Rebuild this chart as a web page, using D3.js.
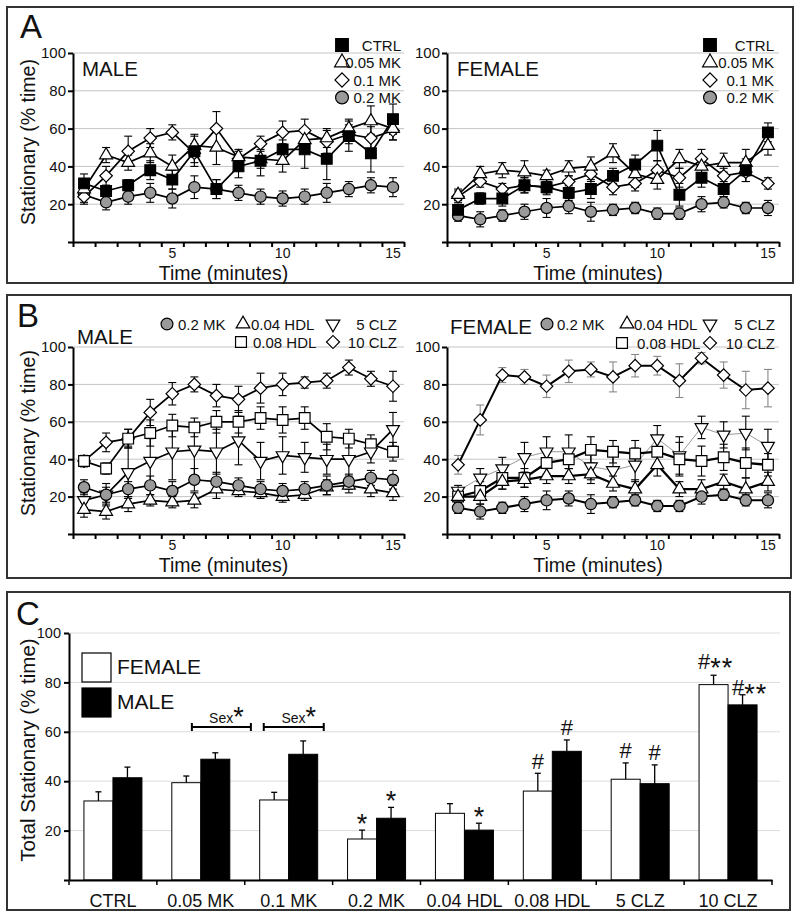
<!DOCTYPE html>
<html><head><meta charset="utf-8">
<script src="https://cdn.jsdelivr.net/npm/d3@7"></script>
<style>body{margin:0;background:#fff}svg{display:block}text{font-family:Arial,"Liberation Sans",sans-serif;fill:#111}</style>
</head><body><svg id="c" width="800" height="917"></svg>
<script>
// ---------------- DATA ----------------
const minutes = [1,2,3,4,5,6,7,8,9,10,11,12,13,14,15];
const xTickLabels = [5,10,15];
const yTicks = [20,40,60,80,100];

const seriesA = ["CTRL","0.05 MK","0.1 MK","0.2 MK"];
const seriesB = ["0.2 MK","0.04 HDL","0.08 HDL","5 CLZ","10 CLZ"];

// Panel A - male
const ctrlM    = [31,27,30,38,33,48,28,40,43,49,49,44,56,47,65];
const ctrlMErr = [5,3,3,5,5,8,5,6,8,5,10,11,8,10,8];
const mk005M    = [28,46,42,47,40,51,50,45,44,43,54,55,60,64,60];
const mk005MErr = [4,4,4,5,6,6,9,4,5,6,4,5,5,8,6];
const mk01M    = [24,35,48,55,58,47,60,44,52,58,59,53,57,55,59];
const mk01MErr = [4,5,8,5,4,5,9,4,4,6,6,6,5,6,5];
const mk02M    = [25,21,24,26,23,29,28,26,24,23,24,26,28,30,29];
const mk02MErr = [4,4,4,5,5,6,5,4,4,4,4,5,4,4,5];
// Panel A - female
const ctrlF    = [17,23,23,30,29,26,28,35,41,51,25,34,28,38,58];
const ctrlFErr = [3,3,4,4,3,4,5,4,5,8,6,5,4,6,5];
const mk005F    = [25,36,38,37,35,39,40,47,36,33,44,40,42,42,51];
const mk005FErr = [3,4,4,6,3,4,5,5,7,5,5,4,5,7,5];
const mk01F    = [24,32,28,30,29,32,36,29,31,38,34,44,35,37,31];
const mk01FErr = [3,3,3,4,4,3,4,4,4,5,5,5,4,5,3];
const mk02F    = [14,12,14,16,18,19,16,17,18,15,15,20,21,18,18];
const mk02FErr = [3,4,3,4,5,4,5,3,3,3,3,4,3,3,4];
// Panel B - male
const hdl004M    = [13,12,16,18,17,18,24,23,22,20,21,25,26,24,22];
const hdl004MErr = [4,4,4,3,3,4,5,3,3,3,3,4,4,4,4];
const hdl008M    = [39,35,51,54,58,57,60,60,62,61,62,52,51,48,44];
const hdl008MErr = [3,3,5,7,6,5,6,6,6,7,6,7,5,5,5];
const clz5M    = [18,21,33,39,44,45,44,50,39,42,41,40,40,44,56];
const clz5MErr = [4,6,14,12,15,14,12,13,10,10,8,8,9,6,9];
const clz10M    = [39,49,51,65,75,80,74,72,78,80,81,82,89,83,79];
const clz10MErr = [3,5,5,7,6,4,6,7,8,6,3,4,4,4,8];
// Panel B - female
const hdl004F    = [20,20,28,29,31,31,32,27,24,37,24,24,28,24,28];
const hdl004FErr = [3,4,4,4,4,4,5,4,5,6,4,5,4,6,5];
const hdl008F    = [20,23,30,30,38,40,45,44,43,44,40,39,41,38,37];
const hdl008FErr = [3,5,6,5,6,5,7,6,7,7,9,8,7,8,6];
const clz5F    = [23,30,35,41,44,44,36,34,37,51,42,57,53,54,47];
const clz5FErr = [3,5,6,8,8,9,7,8,9,7,10,6,7,9,9];
const clz10F    = [37,61,85,84,79,87,88,84,90,90,82,94,85,77,78];
const clz10FErr = [5,8,4,4,6,6,4,8,6,5,9,3,7,10,10];

// Panel C
const groups = ["CTRL","0.05 MK","0.1 MK","0.2 MK","0.04 HDL","0.08 HDL","5 CLZ","10 CLZ"];
const sexes = ["FEMALE","MALE"];
const femaleTotal = [32,39.4,32.4,16.6,27.0,36.0,40.8,79.1];
const femaleErr   = [3.7,2.7,3.1,3.6,3.9,7.2,6.6,3.8];
const maleTotal   = [41.4,48.9,50.9,25.0,20.2,52.1,39.0,70.9];
const maleErr     = [4.3,2.6,5.4,4.4,2.8,4.6,7.6,4.1];
const femaleMarks = ["","","","*","","#","#","#**"];
const maleMarks   = ["","","","*","*","#","#","#**"];

// ---------------- DRAW ----------------
const svg = d3.select("#c");
const FONT = 'Arial,"Liberation Sans",sans-serif';

function symPath(type, size) {
  if (type === "square" || type === "opensquare" || type === "diamond") return d3.symbol(d3.symbolSquare, size)();
  if (type === "circle") return d3.symbol(d3.symbolCircle, size)();
  return d3.symbol(d3.symbolTriangle, size)();
}
function symRot(type){ return type==="tridown"?180:(type==="diamond"?45:0); }
function symFill(type){ return type==="square"?"#000":(type==="circle"?"#9a9a9a":"#fff"); }
const symSize = {square:115, opensquare:115, circle:100, triangle:72, tridown:72, diamond:78};
const legSize = {square:160, opensquare:140, circle:130, triangle:95, tridown:95, diamond:100};

function drawMarker(g, type, x, y, size) {
  g.append("path").attr("d", symPath(type, size))
    .attr("transform", `translate(${x},${y}) rotate(${symRot(type)})`)
    .attr("fill", symFill(type)).attr("stroke", "#000").attr("stroke-width", 1.2);
}

function panelBox(x0,y0,x1,y1){
  svg.append("rect").attr("x",x0).attr("y",y0).attr("width",x1-x0).attr("height",y1-y0)
    .attr("fill","none").attr("stroke","#333").attr("stroke-width",2);
}

function timePanel(opt) {
  const g = svg.append("g");
  const x = d3.scaleLinear().domain([0.5,15.5]).range([opt.x0, opt.x1]);
  const y = d3.scaleLinear().domain([0,100]).range([opt.yb, opt.yt]);
  g.selectAll(null).data(yTicks).join("line")
    .attr("x1", opt.x0).attr("x2", opt.x1).attr("y1", d=>y(d)).attr("y2", d=>y(d))
    .attr("stroke", "#c4c4c4").attr("stroke-width", 1);
  const ya = d3.axisLeft(y).tickValues([0].concat(yTicks)).tickSize(5).tickSizeOuter(0).tickPadding(2)
     .tickFormat(d => d===0 ? "" : d);
  const yg = g.append("g").attr("transform", `translate(${opt.x0},0)`).call(ya);
  yg.selectAll("text").attr("font-size", 15).attr("font-family", FONT).attr("fill","#111");
  yg.selectAll("line,path").attr("stroke","#000").attr("stroke-width",2);
  const bounds = minutes.map(m => m - 0.5).concat([minutes[minutes.length-1] + 0.5]);
  const xa = d3.axisBottom(x).tickValues(bounds).tickSize(5).tickSizeOuter(0).tickFormat("");
  const xg = g.append("g").attr("transform", `translate(0,${opt.yb})`).call(xa);
  xg.selectAll("line,path").attr("stroke","#000").attr("stroke-width",2);
  g.selectAll(null).data(xTickLabels).join("text")
    .attr("x", d=>x(d)).attr("y", opt.yb + 16).attr("text-anchor","middle")
    .attr("font-size", 14).text(d=>d);
  g.append("text").attr("x", (opt.x0+opt.x1)/2 - 15).attr("y", opt.yb + 38)
    .attr("text-anchor","middle").attr("font-size", 19.5).text("Time (minutes)");
  opt.series.forEach(s => {
    const col = s.errColor || "#000";
    s.values.forEach((v,i) => {
      const cx = x(minutes[i]), e = s.errors[i];
      g.append("line").attr("x1",cx).attr("x2",cx).attr("y1",y(v-e)).attr("y2",y(v+e)).attr("stroke",col).attr("stroke-width",1.1);
      [v-e, v+e].forEach(w => g.append("line").attr("x1",cx-4).attr("x2",cx+4).attr("y1",y(w)).attr("y2",y(w)).attr("stroke",col).attr("stroke-width",1.1));
    });
  });
  const line = d3.line().x((d,i)=>x(minutes[i])).y(d=>y(d));
  opt.series.forEach(s => {
    g.append("path").attr("d", line(s.values)).attr("fill","none")
      .attr("stroke", s.lineColor || "#000").attr("stroke-width", s.lineWidth || 1.7);
  });
  opt.series.forEach(s => {
    s.values.forEach((v,i) => drawMarker(g, s.marker, x(minutes[i]), y(v), symSize[s.marker]));
  });
  return g;
}

// ---- Panel A ----
panelBox(7,7,793,283);
svg.append("text").attr("x",20).attr("y",38).attr("font-size",33).text("A");
svg.append("text").attr("transform","translate(35,142) rotate(-90)").attr("text-anchor","middle")
  .attr("font-size",19.5).text("Stationary (% time)");

const markersA = {"CTRL":"square","0.05 MK":"triangle","0.1 MK":"diamond","0.2 MK":"circle"};
timePanel({x0:73, x1:404, yb:242, yt:53, series:[
  {name:"0.2 MK", values:mk02M, errors:mk02MErr, marker:"circle"},
  {name:"0.1 MK", values:mk01M, errors:mk01MErr, marker:"diamond"},
  {name:"0.05 MK", values:mk005M, errors:mk005MErr, marker:"triangle"},
  {name:"CTRL", values:ctrlM, errors:ctrlMErr, marker:"square"}
]});
timePanel({x0:447, x1:779, yb:242, yt:53, series:[
  {name:"0.2 MK", values:mk02F, errors:mk02FErr, marker:"circle"},
  {name:"0.1 MK", values:mk01F, errors:mk01FErr, marker:"diamond"},
  {name:"0.05 MK", values:mk005F, errors:mk005FErr, marker:"triangle"},
  {name:"CTRL", values:ctrlF, errors:ctrlFErr, marker:"square"}
]});
svg.append("text").attr("x",82).attr("y",76).attr("font-size",20.5).text("MALE");
svg.append("text").attr("x",457).attr("y",76).attr("font-size",20.5).text("FEMALE");
[[342,401],[710,774]].forEach(([mx,tx]) => {
  seriesA.forEach((nm,i) => {
    const yy = 45 + i*17.5;
    drawMarker(svg, markersA[nm], mx, yy, legSize[markersA[nm]]);
    svg.append("text").attr("x",tx).attr("y",yy+5.5).attr("text-anchor","end").attr("font-size",15).text(nm);
  });
});

// ---- Panel B ----
panelBox(7,295,791,578);
svg.append("text").attr("x",17).attr("y",327).attr("font-size",33).text("B");
svg.append("text").attr("transform","translate(35,433) rotate(-90)").attr("text-anchor","middle")
  .attr("font-size",19.5).text("Stationary (% time)");
timePanel({x0:73, x1:404, yb:534, yt:347, series:[
  {name:"10 CLZ", values:clz10M, errors:clz10MErr, marker:"diamond"},
  {name:"0.08 HDL", values:hdl008M, errors:hdl008MErr, marker:"opensquare"},
  {name:"5 CLZ", values:clz5M, errors:clz5MErr, marker:"tridown"},
  {name:"0.04 HDL", values:hdl004M, errors:hdl004MErr, marker:"triangle"},
  {name:"0.2 MK", values:mk02M, errors:mk02MErr, marker:"circle"}
]});
timePanel({x0:447, x1:779, yb:534, yt:347, series:[
  {name:"10 CLZ", values:clz10F, errors:clz10FErr, marker:"diamond", errColor:"#888", lineWidth:2},
  {name:"5 CLZ", values:clz5F, errors:clz5FErr, marker:"tridown", lineColor:"#999", lineWidth:1},
  {name:"0.08 HDL", values:hdl008F, errors:hdl008FErr, marker:"opensquare", lineWidth:2.3},
  {name:"0.04 HDL", values:hdl004F, errors:hdl004FErr, marker:"triangle", lineWidth:2.3},
  {name:"0.2 MK", values:mk02F, errors:mk02FErr, marker:"circle", lineWidth:2}
]});
svg.append("text").attr("x",77).attr("y",344).attr("font-size",20.5).text("MALE");
svg.append("text").attr("x",450).attr("y",334).attr("font-size",20.5).text("FEMALE");
const markersB = {"0.2 MK":"circle","0.04 HDL":"triangle","0.08 HDL":"opensquare","5 CLZ":"tridown","10 CLZ":"diamond"};
const legB = [
  [ {n:"0.2 MK", mx:167, my:324, tx:178, anchor:"start"},
    {n:"0.04 HDL", mx:243, my:324, tx:251, anchor:"start"},
    {n:"5 CLZ", mx:333, my:324, tx:397, anchor:"end"},
    {n:"0.08 HDL", mx:241, my:342, tx:253, anchor:"start"},
    {n:"10 CLZ", mx:333, my:342, tx:397, anchor:"end"} ],
  [ {n:"0.2 MK", mx:547, my:324, tx:557, anchor:"start"},
    {n:"0.04 HDL", mx:627, my:324, tx:634, anchor:"start"},
    {n:"5 CLZ", mx:710, my:324, tx:775, anchor:"end"},
    {n:"0.08 HDL", mx:622, my:343, tx:637, anchor:"start"},
    {n:"10 CLZ", mx:710, my:343, tx:775, anchor:"end"} ]
];
legB.forEach(L => L.forEach(it => {
  drawMarker(svg, markersB[it.n], it.mx, it.my, legSize[markersB[it.n]]*0.85);
  svg.append("text").attr("x",it.tx).attr("y",it.my+5.5).attr("text-anchor",it.anchor).attr("font-size",15).text(it.n);
}));

// ---- Panel C ----
panelBox(7,592,790,910);
svg.append("text").attr("x",16).attr("y",625).attr("font-size",33).text("C");
svg.append("text").attr("transform","translate(35,750) rotate(-90)").attr("text-anchor","middle")
  .attr("font-size",20.5).text("Total Stationary (% time)");
const gC = svg.append("g");
const xC = d3.scaleBand().domain(groups).range([69,772]);
const yC = d3.scaleLinear().domain([0,100]).range([880,633]);
const bw = xC.bandwidth(), barW = bw*0.33;
const inner = d3.scaleBand().domain(sexes).range([bw/2 - barW, bw/2 + barW]);
gC.selectAll(null).data(yTicks).join("line")
  .attr("x1",69).attr("x2",780).attr("y1",d=>yC(d)).attr("y2",d=>yC(d))
  .attr("stroke","#dcdcdc").attr("stroke-width",1);
const yaC = d3.axisLeft(yC).tickValues([0].concat(yTicks)).tickSize(5).tickSizeOuter(0).tickPadding(3)
  .tickFormat(d => d===0 ? "" : d);
const ygC = gC.append("g").attr("transform","translate(69,0)").call(yaC);
ygC.selectAll("text").attr("font-size",14.5).attr("font-family",FONT).attr("fill","#111");
ygC.selectAll("line,path").attr("stroke","#000").attr("stroke-width",2);

const dataC = groups.map((gname,i) => ({g:gname, vals:[
  {s:"FEMALE", v:femaleTotal[i], e:femaleErr[i], m:femaleMarks[i]},
  {s:"MALE", v:maleTotal[i], e:maleErr[i], m:maleMarks[i]}]}));
dataC.forEach(d => {
  d.vals.forEach(b => {
    const bx = xC(d.g) + inner(b.s), cx = bx + barW/2;
    gC.append("line").attr("x1",cx).attr("x2",cx).attr("y1",yC(b.v)).attr("y2",yC(b.v+b.e)).attr("stroke","#000").attr("stroke-width",1.3);
    gC.append("line").attr("x1",cx-3).attr("x2",cx+3).attr("y1",yC(b.v+b.e)).attr("y2",yC(b.v+b.e)).attr("stroke","#000").attr("stroke-width",1.3);
    gC.append("rect").attr("x",bx).attr("y",yC(b.v)).attr("width",barW).attr("height",yC(0)-yC(b.v))
      .attr("fill", b.s==="MALE" ? "#000" : "#fff").attr("stroke","#000").attr("stroke-width",1);
    if (b.m) {
      const multi = b.m.length > 1;
      const yc = yC(b.v + b.e) - (multi ? (b.s==="MALE" ? 7 : 14) : 12);
      const t = gC.append("text").attr("x",cx + (multi ? (b.s==="MALE"?7:2) : 0)).attr("text-anchor","middle");
      if (b.m === "*") {
        t.attr("y", yc + 15).attr("font-size",27).text("*");
      } else {
        t.attr("y", yc + 7.5);
        t.append("tspan").attr("font-size",22).text(b.m[0]);
        if (multi) t.append("tspan").attr("font-size",27).attr("dy","0.3em").attr("letter-spacing",1).text(b.m.slice(1));
      }
    }
  });
});
const xaC = d3.axisBottom(xC).tickSize(0).tickSizeOuter(0).tickPadding(10);
const xgC = gC.append("g").attr("transform","translate(0,880)").call(xaC);
xgC.selectAll("path").attr("stroke","#000").attr("stroke-width",2);
xgC.selectAll("text").attr("font-size",18).attr("font-family",FONT).attr("fill","#111").attr("dy","0.95em");
gC.selectAll(null).data(groups.concat([null])).join("line")
  .attr("x1",(d,i)=> i<groups.length ? xC(d) : xC(groups[groups.length-1])+bw)
  .attr("x2",(d,i)=> i<groups.length ? xC(d) : xC(groups[groups.length-1])+bw)
  .attr("y1",880).attr("y2",885).attr("stroke","#000").attr("stroke-width",1.5);

[{g:"0.05 MK", a:35, b:94}, {g:"0.1 MK", a:19, b:79}].forEach(br => {
  const x0 = xC(br.g) + br.a, x1 = xC(br.g) + br.b, yy = 727;
  gC.append("line").attr("x1",x0).attr("x2",x1).attr("y1",yy).attr("y2",yy).attr("stroke","#000").attr("stroke-width",2);
  [x0,x1].forEach(xx => gC.append("line").attr("x1",xx).attr("x2",xx).attr("y1",yy-4).attr("y2",yy+4).attr("stroke","#000").attr("stroke-width",2));
  const t = gC.append("text").attr("x",(x0+x1)/2 + 5).attr("y",723).attr("text-anchor","middle");
  t.append("tspan").attr("font-size",14).text("Sex");
  t.append("tspan").attr("font-size",27).attr("dy","0.1em").text("*");
});
[["FEMALE","#fff",653],["MALE","#000",688]].forEach(([nm,fill,yy]) => {
  gC.append("rect").attr("x",82).attr("y",yy).attr("width",29).attr("height",29).attr("fill",fill).attr("stroke","#000").attr("stroke-width",1.2);
  gC.append("text").attr("x",117).attr("y",yy+21).attr("font-size",21).text(nm);
});
</script></body></html>
